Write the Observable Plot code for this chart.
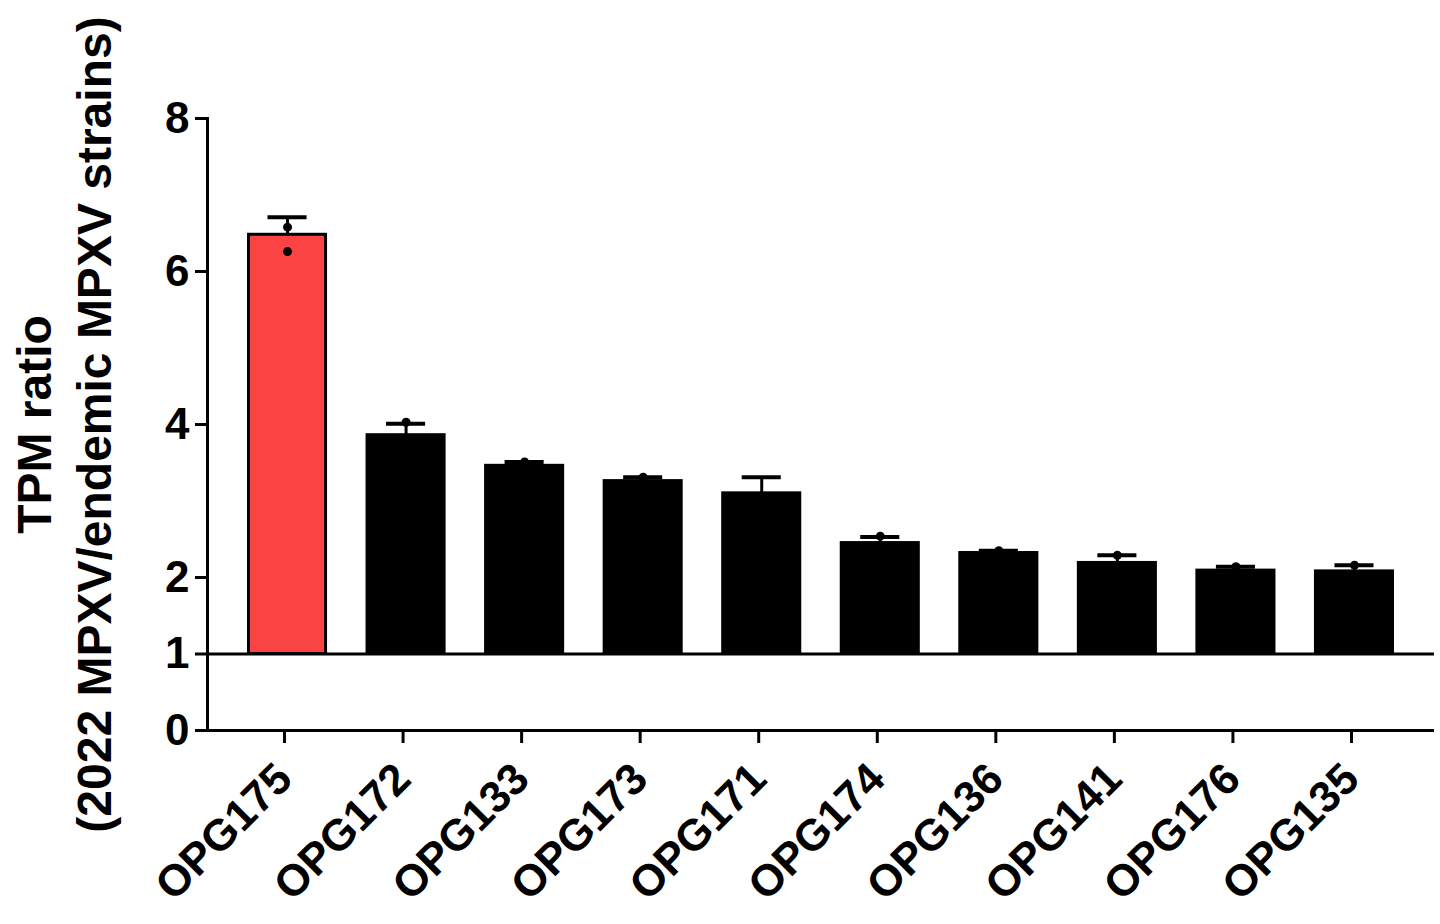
<!DOCTYPE html>
<html>
<head>
<meta charset="utf-8">
<script src="https://cdn.jsdelivr.net/npm/d3@7"></script>
<script src="https://cdn.jsdelivr.net/npm/@observablehq/plot@0.6"></script>
<style>
  html, body { margin: 0; padding: 0; background: #fff; }
  #chart svg { font-family: "Liberation Sans", Arial, sans-serif; font-weight: bold; }
  #chart g[aria-label="y-axis tick"] path,
  #chart g[aria-label="x-axis tick"] path { stroke-width: 3px; }
</style>
</head>
<body>
<div id="chart"></div>
<script>
const genes = ["OPG175", "OPG172", "OPG133", "OPG173", "OPG171", "OPG174", "OPG136", "OPG141", "OPG176", "OPG135"];
const means = [6.48, 3.86, 3.46, 3.26, 3.10, 2.45, 2.32, 2.19, 2.09, 2.08];
const upper = [6.71, 4.01, 3.51, 3.31, 3.31, 2.53, 2.35, 2.29, 2.14, 2.16];
const highlight = ["OPG175"];
const dotGenes = ["OPG175", "OPG175", "OPG172", "OPG133", "OPG173", "OPG174", "OPG136", "OPG141", "OPG176", "OPG135"];
const dotValues = [6.26, 6.58, 4.03, 3.51, 3.31, 2.54, 2.35, 2.29, 2.14, 2.16];
const yTicks = [0, 1, 2, 4, 6, 8];
const baseline = 1;
const titleLines = ["TPM ratio", "(2022 MPXV/endemic MPXV strains)"];

const bars = genes.map((g, i) => ({gene: g, mean: means[i], upper: upper[i], hi: highlight.includes(g)}));
const dots = dotGenes.map((g, i) => ({gene: g, value: dotValues[i]}));

const chart = Plot.plot({
  width: 1440,
  height: 924,
  marginLeft: 207,
  marginRight: 6,
  marginTop: 118,
  marginBottom: 194,
  style: {background: "white", color: "black", overflow: "visible"},
  x: {domain: genes, paddingInner: 0.35, paddingOuter: 0.35, round: false, label: null},
  y: {domain: [0, 8], label: null},
  marks: [
    Plot.barY(bars, {
      x: "gene", y1: baseline, y2: "mean",
      fill: d => d.hi ? "#fa4343" : "black",
      stroke: "black", strokeWidth: 3
    }),
    Plot.ruleX(bars, {x: "gene", y1: "mean", y2: "upper", stroke: "black", strokeWidth: 3}),
    Plot.tickY(bars, {x: "gene", y: "upper", stroke: "black", strokeWidth: 4, insetLeft: 19, insetRight: 19}),
    Plot.dot(dots, {x: "gene", y: "value", r: 4.5, fill: "black"}),
    Plot.ruleY([baseline], {stroke: "black", strokeWidth: 3}),
    Plot.ruleY([0], {stroke: "black", strokeWidth: 3}),
    Plot.frame({anchor: "left", stroke: "black", strokeWidth: 3}),
    Plot.axisY({ticks: yTicks, tickSize: 12, tickPadding: 6, fontSize: 44, fontWeight: "bold", label: null}),
    Plot.axisX({tickSize: 13, tickPadding: 28, dx: -3, tickRotate: -45, fontSize: 44, fontWeight: "bold", label: null}),
    Plot.text([titleLines.join("\n")], {
      frameAnchor: "left", dx: -146, rotate: -90, fontSize: 48, fontWeight: "bold",
      lineHeight: 1.26, textAnchor: "middle", fill: "black"
    })
  ]
});
document.getElementById("chart").appendChild(chart);
</script>
</body>
</html>
